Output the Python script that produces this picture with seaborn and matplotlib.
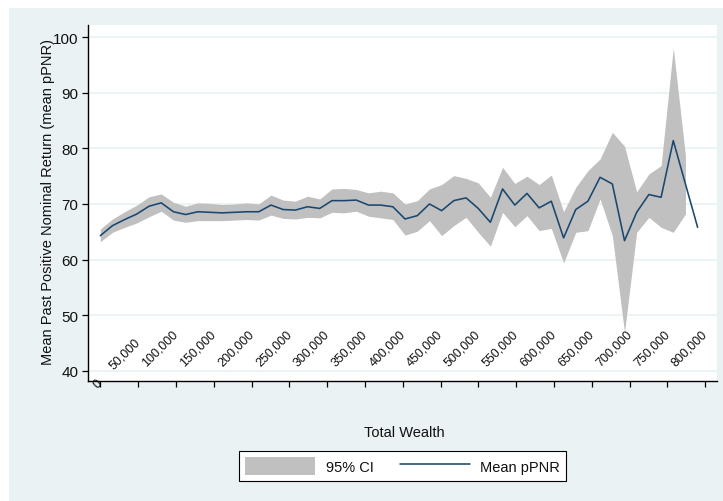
import numpy as np
import pandas as pd
import seaborn as sns
import matplotlib.pyplot as plt
from matplotlib.patches import Rectangle, Patch
from matplotlib.lines import Line2D

# Wealth bin positions and the mean pPNR with its 95% confidence bounds
wealth = [0, 16100, 32300, 48400, 64500, 80600, 96800, 112900, 129000, 145100,
          161300, 177400, 193500, 209600, 225800, 241900, 258000, 274100, 290300, 306400,
          322500, 338600, 354800, 370900, 387000, 403100, 419300, 435400, 451500, 467600,
          483800, 499900, 516000, 532100, 548300, 564400, 580500, 596600, 612800, 628900,
          645000, 661100, 677300, 693400, 709500, 725600, 741800, 757900, 774000, 790100]

mean_ppnr = [64.3, 66.1, 67.2, 68.2, 69.6, 70.2, 68.6, 68.1, 68.6, 68.5,
             68.4, 68.5, 68.6, 68.6, 69.8, 69.0, 68.9, 69.5, 69.2, 70.6,
             70.6, 70.7, 69.8, 69.8, 69.5, 67.3, 67.9, 70.0, 68.8, 70.6,
             71.1, 69.2, 66.7, 72.7, 69.8, 71.9, 69.3, 70.5, 63.9, 69.0,
             70.5, 74.8, 73.6, 63.4, 68.5, 71.7, 71.2, 81.4, 73.6, 65.8]

ci_low = [63.2, 64.9, 65.8, 66.6, 67.7, 68.7, 67.1, 66.7, 67.0, 67.0,
          67.0, 67.1, 67.2, 67.1, 68.0, 67.4, 67.3, 67.6, 67.5, 68.5,
          68.4, 68.7, 67.8, 67.5, 67.2, 64.4, 65.1, 67.0, 64.3, 66.1,
          67.6, 64.9, 62.4, 68.5, 65.9, 67.9, 65.2, 65.6, 59.4, 64.9,
          65.2, 70.9, 64.3, 46.9, 64.9, 67.6, 65.8, 64.9, 68.2, np.nan]

ci_high = [65.5, 67.3, 68.6, 69.8, 71.3, 71.8, 70.3, 69.6, 70.2, 70.1,
           69.9, 70.0, 70.2, 70.0, 71.6, 70.7, 70.5, 71.4, 70.9, 72.7,
           72.8, 72.6, 72.0, 72.3, 72.0, 70.0, 70.6, 72.7, 73.5, 75.1,
           74.6, 73.8, 71.2, 76.6, 73.7, 75.0, 73.5, 75.2, 68.6, 73.0,
           76.0, 78.1, 82.9, 80.4, 72.2, 75.4, 76.9, 98.1, 78.7, np.nan]

x_ticks = [0, 50000, 100000, 150000, 200000, 250000, 300000, 350000, 400000,
           450000, 500000, 550000, 600000, 650000, 700000, 750000, 800000]
x_tick_labels = ["0", "50,000", "100,000", "150,000", "200,000", "250,000",
                 "300,000", "350,000", "400,000", "450,000", "500,000", "550,000",
                 "600,000", "650,000", "700,000", "750,000", "800,000"]
y_ticks = [40, 50, 60, 70, 80, 90, 100]

BG = "#EAF2F3"
NAVY = "#1A476F"
CI_GRAY = "#C0C0C0"
INK = "#111111"

sns.set_theme(style="white")
plt.rcParams["font.family"] = ["Liberation Sans", "DejaVu Sans"]

W, H = 723, 502
fig = plt.figure(figsize=(W / 100, H / 100), dpi=100, facecolor="white")
fig.add_artist(Rectangle((9 / W, 0), 1 - 9 / W, 1 - 9 / H, transform=fig.transFigure,
                         facecolor=BG, edgecolor="none", zorder=-10))

ax = fig.add_axes([88 / W, 1 - 382 / H, (717 - 88) / W, (382 - 26) / H])
ax.set_facecolor("white")

df = pd.DataFrame({"wealth": wealth, "mean": mean_ppnr, "lo": ci_low, "hi": ci_high})

ax.fill_between(df["wealth"], df["lo"], df["hi"], color=CI_GRAY, lw=0, zorder=2)
sns.lineplot(data=df, x="wealth", y="mean", color=NAVY, lw=1.15, ax=ax, zorder=3)

ax.set_xlim(-16270, 815740)
ax.set_ylim(38.15, 102.2)

ax.set_yticks(y_ticks)
ax.yaxis.grid(True, color=BG, lw=1.3, zorder=0)
ax.xaxis.grid(False)
ax.set_axisbelow(True)

for side in ("top", "right"):
    ax.spines[side].set_visible(False)
for side in ("left", "bottom"):
    ax.spines[side].set_color("black")
    ax.spines[side].set_linewidth(1.0)
    ax.spines[side].set_zorder(4)

ax.set_xticks(x_ticks)
ax.tick_params(axis="both", direction="out", length=4.3, width=0.9, color="black")
ax.tick_params(axis="x", bottom=True, labelbottom=False)
ax.tick_params(axis="y", left=True, labelsize=11, labelcolor=INK, pad=2.5)

# Rotated wealth labels sit just above the axis, right end on the tick
for t, lab in zip(x_ticks, x_tick_labels):
    up = 8.1 * (len(lab) - 1) + 0.5
    ax.annotate(lab, xy=(t, 0), xycoords=("data", "axes fraction"),
                xytext=(0.5, up), textcoords="offset pixels",
                rotation=45, rotation_mode="anchor", ha="right", va="center",
                fontsize=9, color=INK, annotation_clip=False, zorder=5)

ax.set_xlabel("Total Wealth", fontsize=10.5, color=INK)
ax.xaxis.set_label_coords((404 - 88) / 629, (382 - 433) / 356)
ax.xaxis.label.set_va("center")

ax.set_ylabel("Mean Past Positive Nominal Return (mean pPNR)", fontsize=10.5, color=INK)
ax.yaxis.set_label_coords((48 - 88) / 629, (382 - 202) / 356)
ax.yaxis.label.set_va("center")

handles = [Patch(facecolor=CI_GRAY, edgecolor="none"),
           Line2D([], [], color=NAVY, lw=1.15)]
leg = fig.legend(handles, ["95% CI", "Mean pPNR"], loc="center",
                 bbox_to_anchor=(402.5 / W, 1 - 467 / H), ncol=2,
                 frameon=True, fancybox=False, framealpha=1, edgecolor="black",
                 facecolor="white", fontsize=10.5, handlelength=4.8, handleheight=1.5,
                 handletextpad=0.7, columnspacing=1.8, borderpad=0.4)
leg.get_frame().set_linewidth(0.8)
for txt in leg.get_texts():
    txt.set_color(INK)

fig.savefig("out.png", dpi=100, facecolor=fig.get_facecolor())
